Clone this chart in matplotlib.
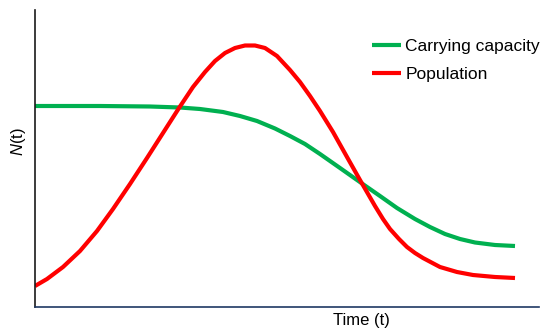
import numpy as np
from matplotlib import pyplot as plt

# values (time, level)
t_pop = [0, 12, 28, 45, 62, 78, 95, 112, 128, 144, 158, 170, 180, 190, 200, 210,
         220, 230, 242, 255, 265, 275, 285, 298, 312, 325, 340, 348, 355, 364,
         372, 380, 388, 405, 422, 438, 460, 480]
pop = [21, 28, 40, 56, 76, 98, 123, 149, 174, 199, 220, 235, 246, 254, 259, 261.5,
       261.5, 259, 251, 237, 225, 211, 196, 175, 150, 127, 101, 88, 78, 68,
       60, 54, 49, 40, 35, 32, 30, 29]

t_cap = [0, 65, 115, 145, 165, 188, 205, 222, 240, 255, 270, 285, 305, 327, 345,
         362, 380, 395, 410, 425, 440, 460, 480]
cap = [201, 201, 200.5, 199.5, 198, 195, 191, 186, 178.5, 171, 163, 153, 139, 123.5, 111,
       99, 88, 80, 73, 68, 64.5, 62, 61]

labels = ['Carrying capacity', 'Population']
colors = ['#00b050', '#ff0000']

plt.rcParams['font.family'] = ['Liberation Sans', 'DejaVu Sans']
plt.rcParams['mathtext.fontset'] = 'custom'
plt.rcParams['mathtext.it'] = 'Liberation Sans:italic'

graph = plt.figure(figsize=(5.5, 3.33), dpi=100)
out = graph.add_axes([35/550, 26/333, 504/550, 297/333])
out.plot(t_cap, cap, color=colors[0], lw=3, label=labels[0],
         solid_capstyle='butt', solid_joinstyle='round')
out.plot(t_pop, pop, color=colors[1], lw=3, label=labels[1],
         solid_capstyle='butt', solid_joinstyle='round')
out.set_xlim(0, 504)
out.set_ylim(0, 297)
out.set_xticks([])
out.set_yticks([])
out.spines['top'].set_visible(False)
out.spines['right'].set_visible(False)
out.spines['left'].set_color('#1a1a1a')
out.spines['bottom'].set_color('#1f3864')
out.spines['left'].set_linewidth(1.2)
out.spines['bottom'].set_linewidth(1.2)

out.legend(loc='upper left', bbox_to_anchor=(337/504, 1 - 29/297), frameon=False,
           fontsize=12.5, handlelength=1.67, handletextpad=0.25, labelspacing=0.72,
           borderaxespad=0, borderpad=0)

graph.text(18/550, 1 - 142/333, r'$N$(t)', rotation=90, ha='center', va='center',
           fontsize=12)
graph.text(361/550, 1 - 320/333, 'Time (t)', ha='center', va='center', fontsize=12)

graph.savefig('out.png', dpi=100)
